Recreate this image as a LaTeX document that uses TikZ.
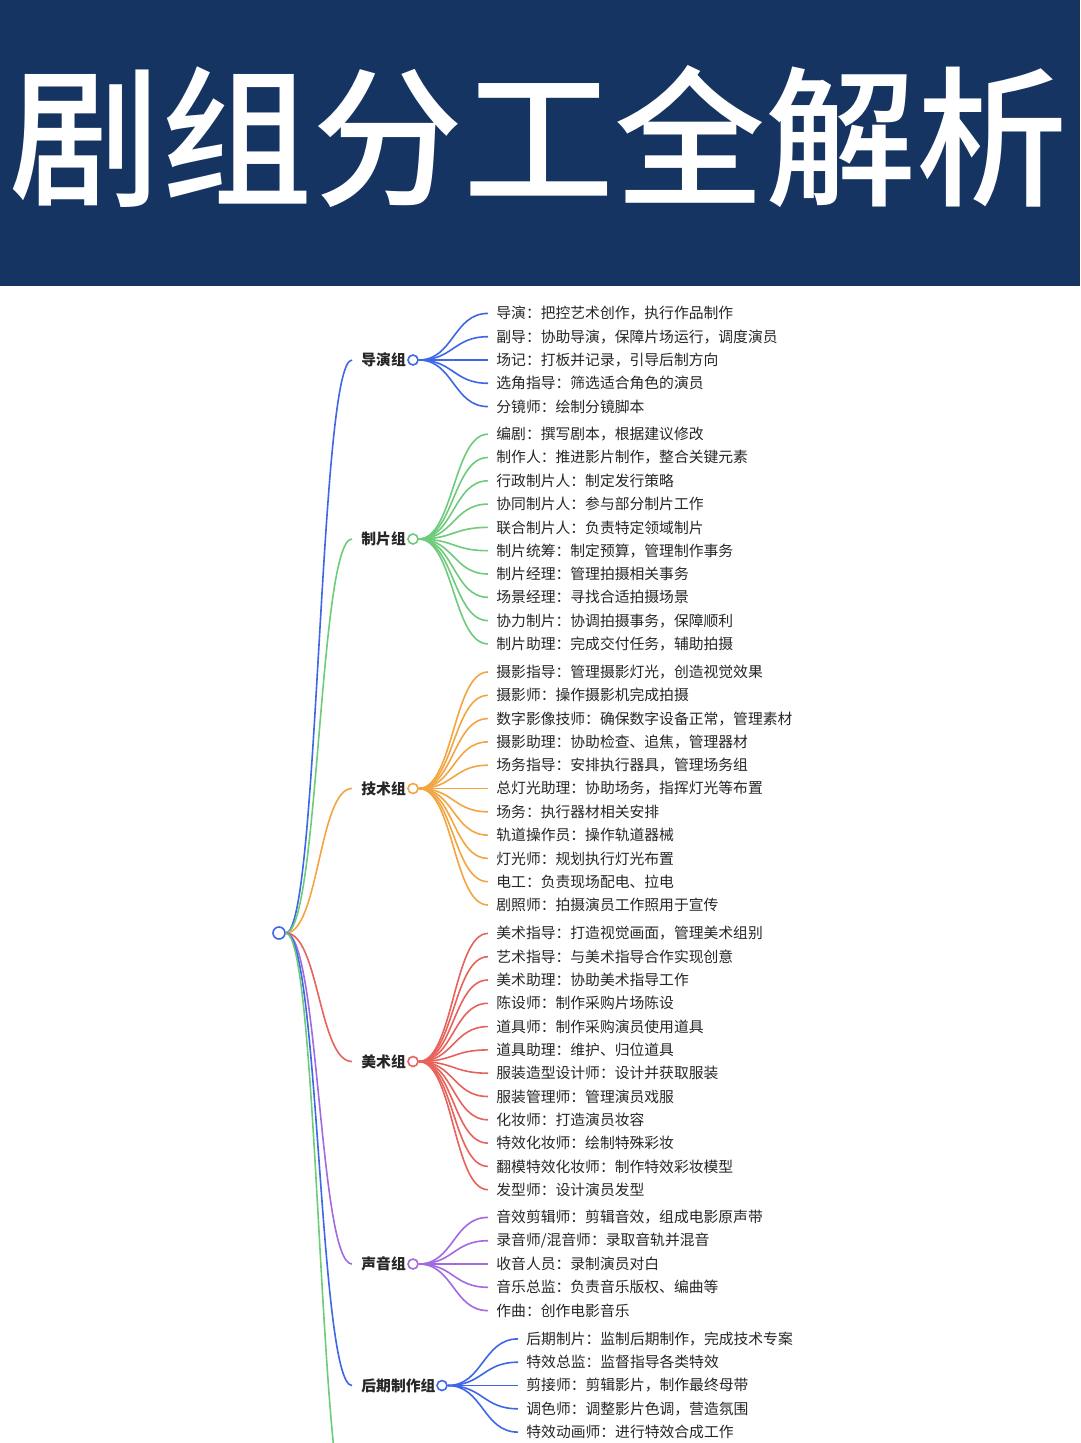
\documentclass[tikz,border=0pt]{standalone}
\usepackage{fontspec}
\usepackage{xcolor}
\usepackage{tikz}
\usetikzlibrary{calc}
\newfontfamily\cjk{Noto Sans CJK SC}
\newfontfamily\cjktitle{Noto Sans CJK SC Medium}

\definecolor{navy}{HTML}{163462}
\definecolor{ink}{HTML}{262626}
\definecolor{cblue}{HTML}{3F66E6}
\definecolor{cgreen}{HTML}{6DCB7A}
\definecolor{corange}{HTML}{F2A540}
\definecolor{cred}{HTML}{E8625C}
\definecolor{cpurple}{HTML}{A16AE0}

\tikzset{
	leaf/.style={anchor=west, inner xsep=4pt, inner ysep=0pt, text=ink,
		font=\cjk\fontsize{7.4pt}{8pt}\selectfont},
	grp/.style={leaf, inner xsep=4.5pt, font=\cjk\bfseries\fontsize{7.4pt}{8pt}\selectfont},
	dot/.style={circle, draw=#1, fill=white, line width=0.8pt, minimum size=5pt, inner sep=0pt},
	link/.style={draw=#1, line width=0.8pt,
		to path={let \p1=(\tikztostart), \p2=(\tikztotarget) in
			(\p1) .. controls ({(\x1+\x2)/2},\y1) and ({(\x1+\x2)/2},\y2) .. (\p2)}},
}

\begin{document}
\begin{tikzpicture}[x=0.5pt, y=-0.5pt]
	\useasboundingbox (0,0) rectangle (1080,1443);
	\clip (0,0) rectangle (1080,1443);
	% banner
	\fill[navy] (0,0) rectangle (1080,286);
	\node[text=white, inner sep=0pt, font=\cjktitle\fontsize{75.5pt}{80pt}\selectfont] (title) at (538.5,137) {剧组分工全解析};

	% root
	\node[dot=cblue, minimum size=6pt] (root) at (279,933) {};

	% groups
	\node[grp] (dy) at (352,360) {导演组};
	\node[dot=cblue] (dy-o) at (413,360) {};
	\node[grp] (zp) at (352,539) {制片组};
	\node[dot=cgreen] (zp-o) at (413,539) {};
	\node[grp] (js) at (352,788.5) {技术组};
	\node[dot=corange] (js-o) at (413,788.5) {};
	\node[grp] (ms) at (352,1061.5) {美术组};
	\node[dot=cred] (ms-o) at (413,1061.5) {};
	\node[grp] (sy) at (352,1264) {声音组};
	\node[dot=cpurple] (sy-o) at (413,1264) {};
	\node[grp] (hq) at (352,1385.5) {后期制作组};
	\node[dot=cblue] (hq-o) at (442,1385.5) {};
	\coordinate (nx) at (352,1526);

	\draw[link=cblue] (root.east) to (dy.west);
	\draw[link=cgreen] (root.east) to (zp.west);
	\draw[link=corange] (root.east) to (js.west);
	\draw[link=cred] (root.east) to (ms.west);
	\draw[link=cpurple] (root.east) to (sy.west);
	\draw[link=cblue] (root.east) to (hq.west);
	\draw[link=cgreen] (root.east) to (nx);

	% 导演组
	\node[leaf] (dy1) at (488,313.4) {导演：把控艺术创作，执行作品制作};
	\node[leaf] (dy2) at (488,336.7) {副导：协助导演，保障片场运行，调度演员};
	\node[leaf] (dy3) at (488,360) {场记：打板并记录，引导后制方向};
	\node[leaf] (dy4) at (488,383.3) {选角指导：筛选适合角色的演员};
	\node[leaf] (dy5) at (488,406.6) {分镜师：绘制分镜脚本};
	\draw[link=cblue] (dy-o.east) to (dy1.west);
	\draw[link=cblue] (dy-o.east) to (dy2.west);
	\draw[link=cblue] (dy-o.east) to (dy3.west);
	\draw[link=cblue] (dy-o.east) to (dy4.west);
	\draw[link=cblue] (dy-o.east) to (dy5.west);

	% 制片组
	\node[leaf] (zp1) at (488,434.2) {编剧：撰写剧本，根据建议修改};
	\node[leaf] (zp2) at (488,457.5) {制作人：推进影片制作，整合关键元素};
	\node[leaf] (zp3) at (488,480.8) {行政制片人：制定发行策略};
	\node[leaf] (zp4) at (488,504.1) {协同制片人：参与部分制片工作};
	\node[leaf] (zp5) at (488,527.4) {联合制片人：负责特定领域制片};
	\node[leaf] (zp6) at (488,550.7) {制片统筹：制定预算，管理制作事务};
	\node[leaf] (zp7) at (488,574.0) {制片经理：管理拍摄相关事务};
	\node[leaf] (zp8) at (488,597.3) {场景经理：寻找合适拍摄场景};
	\node[leaf] (zp9) at (488,620.6) {协力制片：协调拍摄事务，保障顺利};
	\node[leaf] (zp10) at (488,643.9) {制片助理：完成交付任务，辅助拍摄};
	\draw[link=cgreen] (zp-o.east) to (zp1.west);
	\draw[link=cgreen] (zp-o.east) to (zp2.west);
	\draw[link=cgreen] (zp-o.east) to (zp3.west);
	\draw[link=cgreen] (zp-o.east) to (zp4.west);
	\draw[link=cgreen] (zp-o.east) to (zp5.west);
	\draw[link=cgreen] (zp-o.east) to (zp6.west);
	\draw[link=cgreen] (zp-o.east) to (zp7.west);
	\draw[link=cgreen] (zp-o.east) to (zp8.west);
	\draw[link=cgreen] (zp-o.east) to (zp9.west);
	\draw[link=cgreen] (zp-o.east) to (zp10.west);

	% 技术组
	\node[leaf] (js1) at (488,672.0) {摄影指导：管理摄影灯光，创造视觉效果};
	\node[leaf] (js2) at (488,695.3) {摄影师：操作摄影机完成拍摄};
	\node[leaf] (js3) at (488,718.6) {数字影像技师：确保数字设备正常，管理素材};
	\node[leaf] (js4) at (488,741.9) {摄影助理：协助检查、追焦，管理器材};
	\node[leaf] (js5) at (488,765.2) {场务指导：安排执行器具，管理场务组};
	\node[leaf] (js6) at (488,788.5) {总灯光助理：协助场务，指挥灯光等布置};
	\node[leaf] (js7) at (488,811.8) {场务：执行器材相关安排};
	\node[leaf] (js8) at (488,835.1) {轨道操作员：操作轨道器械};
	\node[leaf] (js9) at (488,858.4) {灯光师：规划执行灯光布置};
	\node[leaf] (js10) at (488,881.7) {电工：负责现场配电、拉电};
	\node[leaf] (js11) at (488,905.0) {剧照师：拍摄演员工作照用于宣传};
	\draw[link=corange] (js-o.east) to (js1.west);
	\draw[link=corange] (js-o.east) to (js2.west);
	\draw[link=corange] (js-o.east) to (js3.west);
	\draw[link=corange] (js-o.east) to (js4.west);
	\draw[link=corange] (js-o.east) to (js5.west);
	\draw[link=corange] (js-o.east) to (js6.west);
	\draw[link=corange] (js-o.east) to (js7.west);
	\draw[link=corange] (js-o.east) to (js8.west);
	\draw[link=corange] (js-o.east) to (js9.west);
	\draw[link=corange] (js-o.east) to (js10.west);
	\draw[link=corange] (js-o.east) to (js11.west);

	% 美术组
	\node[leaf] (ms1) at (488,933.4) {美术指导：打造视觉画面，管理美术组别};
	\node[leaf] (ms2) at (488,956.7) {艺术指导：与美术指导合作实现创意};
	\node[leaf] (ms3) at (488,980.0) {美术助理：协助美术指导工作};
	\node[leaf] (ms4) at (488,1003.3) {陈设师：制作采购片场陈设};
	\node[leaf] (ms5) at (488,1026.6) {道具师：制作采购演员使用道具};
	\node[leaf] (ms6) at (488,1049.9) {道具助理：维护、归位道具};
	\node[leaf] (ms7) at (488,1073.2) {服装造型设计师：设计并获取服装};
	\node[leaf] (ms8) at (488,1096.5) {服装管理师：管理演员戏服};
	\node[leaf] (ms9) at (488,1119.8) {化妆师：打造演员妆容};
	\node[leaf] (ms10) at (488,1143.1) {特效化妆师：绘制特殊彩妆};
	\node[leaf] (ms11) at (488,1166.4) {翻模特效化妆师：制作特效彩妆模型};
	\node[leaf] (ms12) at (488,1189.7) {发型师：设计演员发型};
	\draw[link=cred] (ms-o.east) to (ms1.west);
	\draw[link=cred] (ms-o.east) to (ms2.west);
	\draw[link=cred] (ms-o.east) to (ms3.west);
	\draw[link=cred] (ms-o.east) to (ms4.west);
	\draw[link=cred] (ms-o.east) to (ms5.west);
	\draw[link=cred] (ms-o.east) to (ms6.west);
	\draw[link=cred] (ms-o.east) to (ms7.west);
	\draw[link=cred] (ms-o.east) to (ms8.west);
	\draw[link=cred] (ms-o.east) to (ms9.west);
	\draw[link=cred] (ms-o.east) to (ms10.west);
	\draw[link=cred] (ms-o.east) to (ms11.west);
	\draw[link=cred] (ms-o.east) to (ms12.west);

	% 声音组
	\node[leaf] (sy1) at (488,1217.4) {音效剪辑师：剪辑音效，组成电影原声带};
	\node[leaf] (sy2) at (488,1240.7) {录音师/混音师：录取音轨并混音};
	\node[leaf] (sy3) at (488,1264.0) {收音人员：录制演员对白};
	\node[leaf] (sy4) at (488,1287.3) {音乐总监：负责音乐版权、编曲等};
	\node[leaf] (sy5) at (488,1310.6) {作曲：创作电影音乐};
	\draw[link=cpurple] (sy-o.east) to (sy1.west);
	\draw[link=cpurple] (sy-o.east) to (sy2.west);
	\draw[link=cpurple] (sy-o.east) to (sy3.west);
	\draw[link=cpurple] (sy-o.east) to (sy4.west);
	\draw[link=cpurple] (sy-o.east) to (sy5.west);

	% 后期制作组
	\node[leaf] (hq1) at (518,1338.9) {后期制片：监制后期制作，完成技术专案};
	\node[leaf] (hq2) at (518,1362.2) {特效总监：监督指导各类特效};
	\node[leaf] (hq3) at (518,1385.5) {剪接师：剪辑影片，制作最终母带};
	\node[leaf] (hq4) at (518,1408.8) {调色师：调整影片色调，营造氛围};
	\node[leaf] (hq5) at (518,1432.1) {特效动画师：进行特效合成工作};
	\draw[link=cblue] (hq-o.east) to (hq1.west);
	\draw[link=cblue] (hq-o.east) to (hq2.west);
	\draw[link=cblue] (hq-o.east) to (hq3.west);
	\draw[link=cblue] (hq-o.east) to (hq4.west);
	\draw[link=cblue] (hq-o.east) to (hq5.west);
\end{tikzpicture}
\end{document}
